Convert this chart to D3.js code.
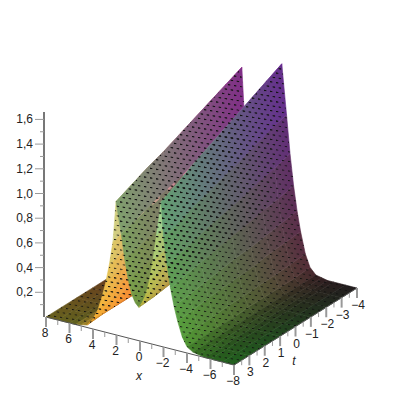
<!DOCTYPE html>
<html lang="en">
<head>
    <meta charset="UTF-8">
    <title>Surface</title>
    <style>
      html, body { margin: 0; padding: 0; background: #fff; }
      svg { display: block; }
      text { font-family: "Liberation Sans", sans-serif; font-size: 12px; fill: #222; }
    </style>
</head>
<body>
<script src="https://d3js.org/d3.v7.min.js"></script>
<script>
// columns run from x=8 to x=-8, crest columns are 12 and 24
var xValues = [8, 7, 6, 5.5, 5, 4.5, 4, 3.6, 3.2, 2.9, 2.6, 2.3, 1.9, 1.6, 1.3, 1, 0.7, 0.4, 0.1, -0.2, -0.5, -0.8, -1.1, -1.4, -1.7, -2, -2.3, -2.6, -2.9, -3.2, -3.6, -4, -4.5, -5, -5.5, -6, -7, -8];
var tValues = [-4, -3, -2, -1, 0, 1, 2, 3, 4];
var crestA = [1.8, 1.83, 1.86, 1.89, 1.92, 1.95, 1.98, 2.01, 2.04];
var crestB = [-1.6, -1.62, -1.65, -1.68, -1.7, -1.73, -1.75, -1.78, -1.8];

var zTm4 = [0, 0, 0, 0, 0.01, 0.03, 0.11, 0.23, 0.41, 0.59, 0.81, 1.07, 1.55, 1.19, 0.9, 0.68, 0.52, 0.43, 0.39, 0.45, 0.55, 0.73, 0.96, 1.27, 1.66, 1.26, 0.95, 0.7, 0.5, 0.34, 0.17, 0.07, 0.02, 0.01, 0, 0, 0, 0];
var zTm3 = [0, 0, 0, 0, 0.01, 0.03, 0.1, 0.22, 0.39, 0.57, 0.77, 1.03, 1.49, 1.14, 0.86, 0.65, 0.5, 0.42, 0.37, 0.43, 0.53, 0.7, 0.93, 1.22, 1.6, 1.22, 0.91, 0.67, 0.48, 0.33, 0.16, 0.06, 0.02, 0.01, 0, 0, 0, 0];
var zTm2 = [0, 0, 0, 0, 0.01, 0.03, 0.1, 0.21, 0.38, 0.54, 0.74, 0.99, 1.43, 1.09, 0.83, 0.63, 0.48, 0.4, 0.36, 0.42, 0.51, 0.67, 0.89, 1.18, 1.54, 1.17, 0.88, 0.65, 0.46, 0.32, 0.15, 0.06, 0.02, 0.01, 0, 0, 0, 0];
var zTm1 = [0, 0, 0, 0, 0.01, 0.03, 0.1, 0.21, 0.36, 0.52, 0.71, 0.95, 1.37, 1.05, 0.8, 0.6, 0.46, 0.38, 0.34, 0.4, 0.49, 0.65, 0.86, 1.13, 1.48, 1.12, 0.84, 0.62, 0.44, 0.3, 0.15, 0.06, 0.02, 0.01, 0, 0, 0, 0];
var zT0 = [0, 0, 0, 0, 0.01, 0.03, 0.09, 0.2, 0.35, 0.5, 0.68, 0.9, 1.31, 1, 0.76, 0.58, 0.44, 0.37, 0.33, 0.38, 0.47, 0.62, 0.82, 1.09, 1.42, 1.08, 0.81, 0.6, 0.43, 0.29, 0.14, 0.06, 0.02, 0.01, 0, 0, 0, 0];
var zT1 = [0, 0, 0, 0, 0.01, 0.03, 0.09, 0.19, 0.33, 0.48, 0.65, 0.86, 1.25, 0.96, 0.73, 0.55, 0.42, 0.35, 0.31, 0.37, 0.45, 0.59, 0.79, 1.04, 1.36, 1.03, 0.78, 0.57, 0.41, 0.28, 0.14, 0.05, 0.02, 0.01, 0, 0, 0, 0];
var zT2 = [0, 0, 0, 0, 0.01, 0.03, 0.08, 0.18, 0.32, 0.46, 0.62, 0.83, 1.2, 0.92, 0.7, 0.53, 0.4, 0.34, 0.3, 0.35, 0.43, 0.57, 0.75, 0.99, 1.3, 0.99, 0.74, 0.55, 0.39, 0.27, 0.13, 0.05, 0.02, 0.01, 0, 0, 0, 0];
var zT3 = [0, 0, 0, 0, 0.01, 0.03, 0.08, 0.17, 0.3, 0.43, 0.59, 0.79, 1.14, 0.87, 0.66, 0.5, 0.38, 0.32, 0.28, 0.33, 0.41, 0.54, 0.71, 0.94, 1.23, 0.93, 0.7, 0.52, 0.37, 0.25, 0.12, 0.05, 0.02, 0.01, 0, 0, 0, 0];
var zT4 = [0, 0, 0, 0, 0.01, 0.02, 0.08, 0.16, 0.29, 0.41, 0.56, 0.75, 1.08, 0.83, 0.63, 0.47, 0.36, 0.3, 0.27, 0.32, 0.39, 0.51, 0.68, 0.89, 1.17, 0.89, 0.67, 0.49, 0.35, 0.24, 0.12, 0.05, 0.02, 0.01, 0, 0, 0, 0];
var zRows = [zTm4, zTm3, zTm2, zTm1, zT0, zT1, zT2, zT3, zT4];

var zTicks = [0.2, 0.4, 0.6, 0.8, 1.0, 1.2, 1.4, 1.6];
var zMinor = [0.1, 0.3, 0.5, 0.7, 0.9, 1.1, 1.3, 1.5];
var xTicks = [8, 6, 4, 2, 0, -2, -4, -6, -8];
var xMinor = [7, 5, 3, 1, -1, -3, -5, -7];
var tTicks = [-4, -3, -2, -1, 0, 1, 2, 3];
var tMinor = [-3.5, -2.5, -1.5, -0.5, 0.5, 1.5, 2.5, 3.5, 4];

var width = 400, height = 400;

var nx = d3.scaleLinear().domain([-8, 8]).range([-1, 1]);
var nt = d3.scaleLinear().domain([-4, 4]).range([-1, 1]);
var nz = d3.scaleLinear().domain([0, 1.66]).range([-1, 1]);

// colour goes with position, red on x, green on t, blue on z
var red = d3.scaleLinear().domain([-8, 8]).range([0.28, 0.92]);
var green = d3.scaleLinear().domain([-4, 4]).range([0.24, 0.84]);
var blue = d3.scaleLinear().domain([0, 1.66]).range([0.26, 0.8]);
var warm = d3.scaleLinear().domain([0, 1.66]).range([1, 0]);

function project(x, t, z) {
  return [
    201.5 - 94 * nx(x) - 61.5 * nt(t),
    200 - 24 * nx(x) + 38.5 * nt(t) - 102.5 * nz(z)
  ];
}

function depth(x, t, z) {
  return -0.502 * nx(x) + 0.768 * nt(t) + 0.406 * nz(z);
}

function colX(r, c) {
  if (c === 12) return crestA[r];
  if (c === 24) return crestB[r];
  return xValues[c];
}

var svg = d3.select("body").append("svg")
  .attr("width", width)
  .attr("height", height);

var defs = svg.append("defs");

var dots = defs.append("pattern")
  .attr("id", "dots")
  .attr("patternUnits", "userSpaceOnUse")
  .attr("width", 6)
  .attr("height", 9.6)
  .attr("patternTransform", "skewY(9)");
dots.append("rect").attr("x", 0).attr("y", 0).attr("width", 2).attr("height", 1).attr("fill", "#111");
dots.append("rect").attr("x", 3).attr("y", 4.8).attr("width", 2).attr("height", 1).attr("fill", "#111");

// build the cells and sort them back to front
var cells = [];
d3.range(tValues.length - 1).forEach(function(r) {
  d3.range(xValues.length - 1).forEach(function(c) {
    var a = [colX(r, c), tValues[r], zRows[r][c]];
    var b = [colX(r, c + 1), tValues[r], zRows[r][c + 1]];
    var p = [colX(r + 1, c + 1), tValues[r + 1], zRows[r + 1][c + 1]];
    var q = [colX(r + 1, c), tValues[r + 1], zRows[r + 1][c]];
    var corners = [a, b, p, q];
    cells.push({
      r: r, c: c, corners: corners,
      depth: d3.mean(corners, function(k) { return depth(k[0], k[1], k[2]); })
    });
  });
});
cells.sort(function(m, n) { return m.depth - n.depth; });

function slant(cell) {
  var k = cell.corners;
  var ux = nx(k[1][0]) - nx(k[0][0]), uz = nz(k[1][2]) - nz(k[0][2]);
  var vt = nt(k[3][1]) - nt(k[0][1]), vz = nz(k[3][2]) - nz(k[0][2]);
  // normal pointing up
  var nnx = -uz * vt, nnt = -ux * vz, nnz = ux * vt;
  var len = Math.sqrt(nnx * nnx + nnt * nnt + nnz * nnz);
  if (nnz < 0) { nnx = -nnx; }
  return nnx / len;
}

function tone(x, t, z, side) {
  var light = side > 0 ? 0.45 + 0.62 * side : 0.45 - 0.3 * side;
  var w = side > 0 ? warm(z) * Math.min(1, side * 1.5) : 0;
  return d3.rgb(
    255 * Math.min(1, red(x) * light * (1 + 0.28 * w)),
    255 * Math.min(1, green(t) * light * (1 - 0.2 * w)),
    255 * Math.min(1, blue(z) * light * (1 - 0.35 * w))
  ).formatHex();
}

var line = d3.line().curve(d3.curveLinearClosed);
var surface = svg.append("g");

cells.forEach(function(cell, i) {
  var k = cell.corners;
  var pts = k.map(function(v) { return project(v[0], v[1], v[2]); });
  var side = slant(cell);
  var c1 = tone((k[0][0] + k[1][0]) / 2, k[0][1], (k[0][2] + k[1][2]) / 2, side);
  var c2 = tone((k[3][0] + k[2][0]) / 2, k[3][1], (k[3][2] + k[2][2]) / 2, side);

  var m1 = [(pts[0][0] + pts[1][0]) / 2, (pts[0][1] + pts[1][1]) / 2];
  var m2 = [(pts[3][0] + pts[2][0]) / 2, (pts[3][1] + pts[2][1]) / 2];
  var ex = pts[1][0] - pts[0][0], ey = pts[1][1] - pts[0][1];
  var el = Math.sqrt(ex * ex + ey * ey) || 1;
  var px = -ey / el, py = ex / el;
  var along = (m2[0] - m1[0]) * px + (m2[1] - m1[1]) * py;

  var paint = c1;
  if (Math.abs(along) > 1) {
    var id = "g" + i;
    var grad = defs.append("linearGradient")
      .attr("id", id)
      .attr("gradientUnits", "userSpaceOnUse")
      .attr("x1", m1[0]).attr("y1", m1[1])
      .attr("x2", m1[0] + px * along).attr("y2", m1[1] + py * along);
    grad.append("stop").attr("offset", 0).attr("stop-color", c1);
    grad.append("stop").attr("offset", 1).attr("stop-color", c2);
    paint = "url(#" + id + ")";
  }
  surface.append("path")
    .attr("d", line(pts))
    .attr("fill", paint)
    .attr("stroke", paint)
    .attr("stroke-width", 0.6);
});

var mesh = svg.append("g").attr("shape-rendering", "crispEdges");
cells.forEach(function(cell) {
  var pts = cell.corners.map(function(v) { return project(v[0], v[1], v[2]); });
  mesh.append("path").attr("d", line(pts)).attr("fill", "url(#dots)");
});

// axes
var axes = svg.append("g");
var axisColor = "#777";
var tickColor = "#999";

function seg(a, b, w, col) {
  axes.append("line")
    .attr("x1", a[0]).attr("y1", a[1])
    .attr("x2", b[0]).attr("y2", b[1])
    .attr("stroke", col)
    .attr("stroke-width", w);
}

function fmt(v) {
  return d3.format(".1f")(v).replace(".", ",");
}

function signed(v) {
  return v < 0 ? "\u2212" + (-v) : "" + v;
}

var zAt = function(z) { return project(8, 4, z); };
seg([44, 112], [44, zAt(0)[1]], 2, axisColor);
zTicks.forEach(function(z) {
  var y = zAt(z)[1];
  seg([35, y], [44, y], 1, tickColor);
  axes.append("text").attr("x", 33).attr("y", y + 4).attr("text-anchor", "end").text(fmt(z));
});
zMinor.forEach(function(z) {
  var y = zAt(z)[1];
  seg([40, y], [44, y], 1, tickColor);
});

seg(project(8, 4, 0), project(-8, 4, 0), 1, "#555");
xTicks.forEach(function(x) {
  var p = project(x, 4, 0);
  seg(p, [p[0], p[1] + 10], 2, tickColor);
  axes.append("text").attr("x", p[0] - 1).attr("y", p[1] + 20).attr("text-anchor", "middle").text(signed(x));
});
xMinor.forEach(function(x) {
  var p = project(x, 4, 0);
  seg(p, [p[0], p[1] + 5], 1, tickColor);
});
axes.append("text").attr("x", 139).attr("y", 380).attr("text-anchor", "middle")
  .style("font-style", "italic").text("x");

seg(project(-8, 4, 0), project(-8, -4, 0), 1, "#555");
tTicks.forEach(function(t) {
  var p = project(-8, t, 0);
  seg(p, [p[0], p[1] + 10], 2, tickColor);
  axes.append("text").attr("x", p[0] + 1).attr("y", p[1] + 21).attr("text-anchor", "middle").text(signed(t));
});
tMinor.forEach(function(t) {
  var p = project(-8, t, 0);
  seg(p, [p[0], p[1] + 5], 1, tickColor);
});
axes.append("text").attr("x", 294).attr("y", 365).attr("text-anchor", "middle")
  .style("font-style", "italic").text("t");
</script>
</body>
</html>
